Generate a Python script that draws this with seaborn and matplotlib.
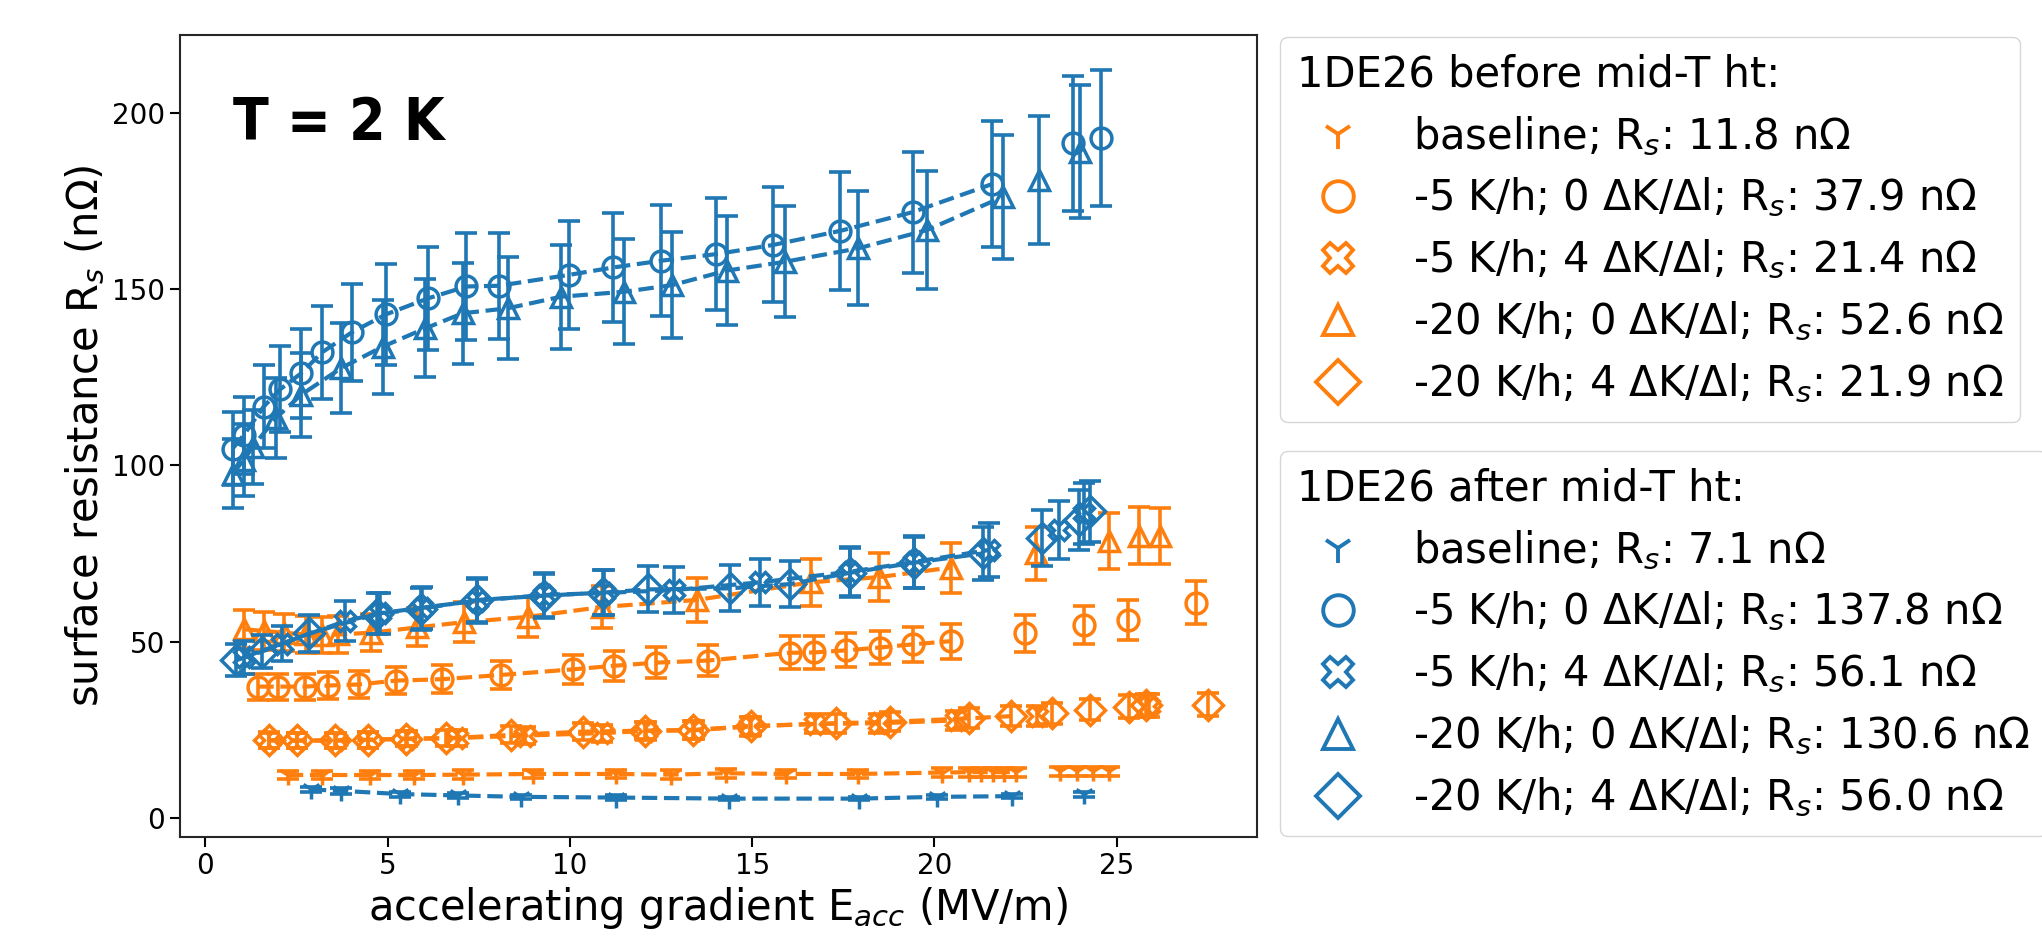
import matplotlib
matplotlib.use("Agg")
import matplotlib.pyplot as plt
import seaborn as sns
from matplotlib.lines import Line2D

# ---------------- data ----------------
# before mid-T heat treatment (orange)
ob_x = [2.26, 3.21, 4.52, 5.71, 7.07, 8.99, 11.27, 12.77, 14.28, 15.92, 17.90, 20.20, 20.95, 21.27, 21.60, 21.90, 22.23]
ob_y = [12.1, 12.1, 12.1, 12.1, 12.2, 12.4, 12.4, 12.2, 12.6, 12.4, 12.4, 12.8, 12.9, 12.9, 12.9, 12.9, 12.9]
ob_e = [1.2, 1.2, 1.2, 1.2, 1.2, 1.2, 1.2, 1.2, 1.3, 1.2, 1.2, 1.3, 1.3, 1.3, 1.3, 1.3, 1.3]
ob_xx = [23.45, 23.90, 24.35, 24.80]
ob_yx = [13.1, 13.1, 13.1, 13.1]
ob_ex = [1.3, 1.3, 1.3, 1.3]

oc_x = [1.45, 1.98, 2.72, 3.35, 4.20, 5.22, 6.50, 8.10, 10.08, 11.20, 12.36, 13.78, 16.04, 16.69, 17.58, 18.50, 19.40, 20.45]
oc_y = [37.2, 37.2, 37.2, 37.5, 37.8, 38.9, 39.3, 40.5, 42.1, 43.1, 44.0, 44.6, 46.8, 46.9, 47.5, 48.3, 49.2, 50.1]
oc_e = [3.7, 3.7, 3.7, 3.8, 3.8, 3.9, 3.9, 4.1, 4.2, 4.3, 4.4, 4.5, 4.7, 4.7, 4.8, 4.8, 4.9, 5.0]
oc_xx = [22.48, 24.10, 25.31, 27.18]
oc_yx = [52.3, 54.7, 56.1, 61.0]
oc_ex = [5.2, 5.5, 5.6, 6.1]

oX_x = [1.75, 2.50, 3.58, 4.47, 5.52, 6.90, 8.76, 10.87, 12.10, 13.40, 14.94, 16.71, 18.49, 20.59]
oX_y = [21.9, 21.9, 21.9, 22.1, 22.4, 22.6, 23.3, 24.0, 24.6, 24.8, 25.9, 26.6, 26.8, 27.6]
oX_e = [2.2, 2.2, 2.2, 2.2, 2.2, 2.3, 2.3, 2.4, 2.5, 2.5, 2.6, 2.7, 2.7, 2.8]
oX_xx = [22.82, 25.88]
oX_yx = [28.8, 31.8]
oX_ex = [2.9, 3.2]

oT_x = [1.05, 1.60, 2.15, 2.75, 3.20, 3.65, 4.55, 5.80, 7.10, 8.85, 10.88, 13.48, 16.60, 18.49, 20.45]
oT_y = [53.5, 53.0, 52.5, 52.0, 51.8, 52.0, 52.5, 54.0, 55.5, 57.0, 59.8, 61.8, 66.8, 68.3, 71.0]
oT_e = [5.4, 5.3, 5.3, 5.2, 5.2, 5.2, 5.3, 5.4, 5.6, 5.7, 6.0, 6.2, 6.7, 6.8, 7.1]
oT_xx = [22.78, 24.78, 25.60, 26.20]
oT_yx = [75.1, 78.5, 80.1, 79.9]
oT_ex = [7.5, 7.9, 8.0, 8.0]

oD_x = [1.75, 2.51, 3.56, 4.47, 5.51, 6.60, 8.39, 10.36, 12.06, 13.38, 14.97, 17.30, 18.79, 20.95, 22.09]
oD_y = [22.0, 21.9, 21.9, 22.1, 22.4, 22.5, 23.5, 24.4, 24.7, 24.9, 26.0, 26.8, 27.2, 28.2, 28.8]
oD_e = [2.2, 2.2, 2.2, 2.2, 2.2, 2.3, 2.4, 2.4, 2.5, 2.5, 2.6, 2.7, 2.7, 2.8, 2.9]
oD_xx = [23.23, 24.28, 25.33, 25.81, 27.50]
oD_yx = [29.6, 30.7, 31.5, 31.9, 32.1]
oD_ex = [3.0, 3.1, 3.2, 3.2, 3.2]

# after mid-T heat treatment (blue)
bb_x = [2.89, 3.73, 5.33, 6.92, 8.67, 11.25, 14.36, 17.94, 20.07, 22.14]
bb_y = [8.0, 7.6, 6.7, 6.3, 5.9, 5.7, 5.4, 5.4, 5.9, 6.1]
bb_e = [0.8, 0.8, 0.7, 0.6, 0.6, 0.6, 0.5, 0.5, 0.6, 0.6]
bb_xx = [24.11]
bb_yx = [6.7]
bb_ex = [0.7]

bc_x = [0.75, 1.05, 1.60, 2.05, 2.62, 3.20, 4.02, 4.96, 6.10, 7.16, 8.05, 9.98, 11.19, 12.49, 14.02, 15.58, 17.42, 19.40, 21.59]
bc_y = [104.8, 108.6, 116.7, 121.6, 126.1, 132.1, 137.8, 142.9, 147.4, 150.8, 151.0, 154.1, 156.2, 158.1, 160.0, 162.6, 166.6, 171.9, 179.9]
bc_e = [10.5, 10.9, 11.7, 12.2, 12.6, 13.2, 13.8, 14.3, 14.7, 15.1, 15.1, 15.4, 15.6, 15.8, 16.0, 16.3, 16.7, 17.2, 18.0]
bc_xx = [23.80, 24.58]
bc_yx = [191.4, 192.9]
bc_ex = [19.1, 19.3]

bX_x = [1.05, 2.09, 3.84, 4.78, 5.94, 7.46, 9.29, 10.94, 12.86, 15.21, 17.67, 19.45, 21.50]
bX_y = [45.5, 49.4, 55.8, 58.0, 59.6, 61.6, 63.2, 63.8, 64.6, 66.8, 69.8, 72.6, 76.0]
bX_e = [4.6, 4.9, 5.6, 5.8, 6.0, 6.2, 6.3, 6.4, 6.5, 6.7, 7.0, 7.3, 7.6]
bX_xx = [23.41, 24.10]
bX_yx = [81.6, 86.4]
bX_ex = [8.2, 8.6]

bT_x = [0.75, 1.05, 1.30, 1.93, 2.62, 3.72, 4.86, 6.03, 7.06, 8.29, 9.76, 11.49, 12.81, 14.30, 15.89, 17.90, 19.79, 21.89]
bT_y = [97.7, 101.5, 105.3, 113.4, 120.0, 127.6, 133.7, 138.9, 143.2, 144.6, 147.9, 149.3, 151.2, 155.3, 157.8, 161.6, 166.8, 176.3]
bT_e = [9.8, 10.2, 10.5, 11.3, 12.0, 12.8, 13.4, 13.9, 14.3, 14.5, 14.8, 14.9, 15.1, 15.5, 15.8, 16.2, 16.7, 17.6]
bT_xx = [22.88, 23.99]
bT_yx = [181.0, 189.1]
bT_ex = [18.1, 18.9]

bD_x = [0.85, 1.54, 2.85, 4.72, 5.91, 7.46, 9.28, 10.92, 12.15, 14.39, 16.03, 17.67, 19.45, 21.32]
bD_y = [44.7, 47.1, 52.3, 57.9, 59.3, 61.8, 63.0, 63.9, 64.8, 65.1, 66.3, 69.5, 72.4, 75.0]
bD_e = [4.5, 4.7, 5.2, 5.8, 5.9, 6.2, 6.3, 6.4, 6.5, 6.5, 6.6, 7.0, 7.2, 7.5]
bD_xx = [22.96, 23.96, 24.28]
bD_yx = [79.3, 84.5, 87.0]
bD_ex = [7.9, 8.5, 8.7]

labels_before = ["baseline; R$_s$: 11.8 nΩ",
                 "-5 K/h; 0 ΔK/Δl; R$_s$: 37.9 nΩ",
                 "-5 K/h; 4 ΔK/Δl; R$_s$: 21.4 nΩ",
                 "-20 K/h; 0 ΔK/Δl; R$_s$: 52.6 nΩ",
                 "-20 K/h; 4 ΔK/Δl; R$_s$: 21.9 nΩ"]
labels_after = ["baseline; R$_s$: 7.1 nΩ",
                "-5 K/h; 0 ΔK/Δl; R$_s$: 137.8 nΩ",
                "-5 K/h; 4 ΔK/Δl; R$_s$: 56.1 nΩ",
                "-20 K/h; 0 ΔK/Δl; R$_s$: 130.6 nΩ",
                "-20 K/h; 4 ΔK/Δl; R$_s$: 56.0 nΩ"]
markers = ["1", "o", "X", "^", "D"]

ORANGE = "#ff7f0e"
BLUE = "#1f77b4"

# ---------------- figure ----------------
sns.set_style("ticks")
plt.rcParams["font.family"] = ["DejaVu Sans"]
plt.rcParams["mathtext.fontset"] = "dejavusans"
plt.rcParams["text.color"] = "black"
plt.rcParams["axes.labelcolor"] = "black"
plt.rcParams["xtick.color"] = "black"
plt.rcParams["ytick.color"] = "black"

fig = plt.figure(figsize=(20.42, 9.43), dpi=100)
ax = fig.add_axes([0.0881, 0.1124, 0.6156 - 0.0881, 0.9629 - 0.1124])

MS = 15
MEW = 2.5


def draw(x, y, e, color, marker, line):
    ax.errorbar(x, y, yerr=e, fmt="none", ecolor=color, elinewidth=2.6,
                capsize=8, capthick=2.6)
    sns.lineplot(x=x, y=y, ax=ax, color=color, marker=marker, ms=MS,
                 mfc="none", mec=color, mew=MEW, lw=3.0,
                 linestyle="--" if line else "none",
                 estimator=None, sort=False, legend=False)


before = [(ob_x, ob_y, ob_e, ob_xx, ob_yx, ob_ex),
          (oc_x, oc_y, oc_e, oc_xx, oc_yx, oc_ex),
          (oX_x, oX_y, oX_e, oX_xx, oX_yx, oX_ex),
          (oT_x, oT_y, oT_e, oT_xx, oT_yx, oT_ex),
          (oD_x, oD_y, oD_e, oD_xx, oD_yx, oD_ex)]
after = [(bb_x, bb_y, bb_e, bb_xx, bb_yx, bb_ex),
         (bc_x, bc_y, bc_e, bc_xx, bc_yx, bc_ex),
         (bX_x, bX_y, bX_e, bX_xx, bX_yx, bX_ex),
         (bT_x, bT_y, bT_e, bT_xx, bT_yx, bT_ex),
         (bD_x, bD_y, bD_e, bD_xx, bD_yx, bD_ex)]

for group, color in ((before, ORANGE), (after, BLUE)):
    for (x, y, e, xx, yx, ex), m in zip(group, markers):
        draw(x, y, e, color, m, True)
        draw(xx, yx, ex, color, m, False)

ax.set_xlim(-0.7, 28.85)
ax.set_ylim(-5.5, 222.2)
ax.set_xticks([0, 5, 10, 15, 20, 25])
ax.set_yticks([0, 50, 100, 150, 200])
ax.tick_params(labelsize=20, length=7, width=1.5, colors="black")
for sp in ax.spines.values():
    sp.set_linewidth(1.5)
    sp.set_color("0.15")
ax.set_xlabel("accelerating gradient E$_{acc}$ (MV/m)", fontsize=30, color="black")
ax.set_ylabel("surface resistance R$_s$ (nΩ)", fontsize=30, color="black")

ax.text(0.049, 0.869, "T = 2 K", transform=ax.transAxes, fontsize=42,
        fontweight="bold", fontstretch="condensed", va="baseline", color="black")


def handles(color):
    return [Line2D([], [], color=color, marker=m, ls="none", ms=22,
                   mfc="none", mec=color, mew=2.8) for m in markers]


leg_kw = dict(loc="upper left", fontsize=30, title_fontsize=30, alignment="left",
              labelspacing=0.45, borderaxespad=0, framealpha=0.8,
              edgecolor="0.8", handlelength=2.0, handletextpad=0.8)
leg1 = fig.legend(handles(ORANGE), labels_before, title="1DE26 before mid-T ht:",
                  bbox_to_anchor=(1280 / 2042, 1 - 37 / 943), **leg_kw)
leg2 = fig.legend(handles(BLUE), labels_after, title="1DE26 after mid-T ht:",
                  bbox_to_anchor=(1280 / 2042, 1 - 451 / 943), **leg_kw)
for leg in (leg1, leg2):
    for t in leg.get_texts():
        t.set_color("black")
    leg.get_title().set_color("black")

fig.savefig("out.png", dpi=100)
